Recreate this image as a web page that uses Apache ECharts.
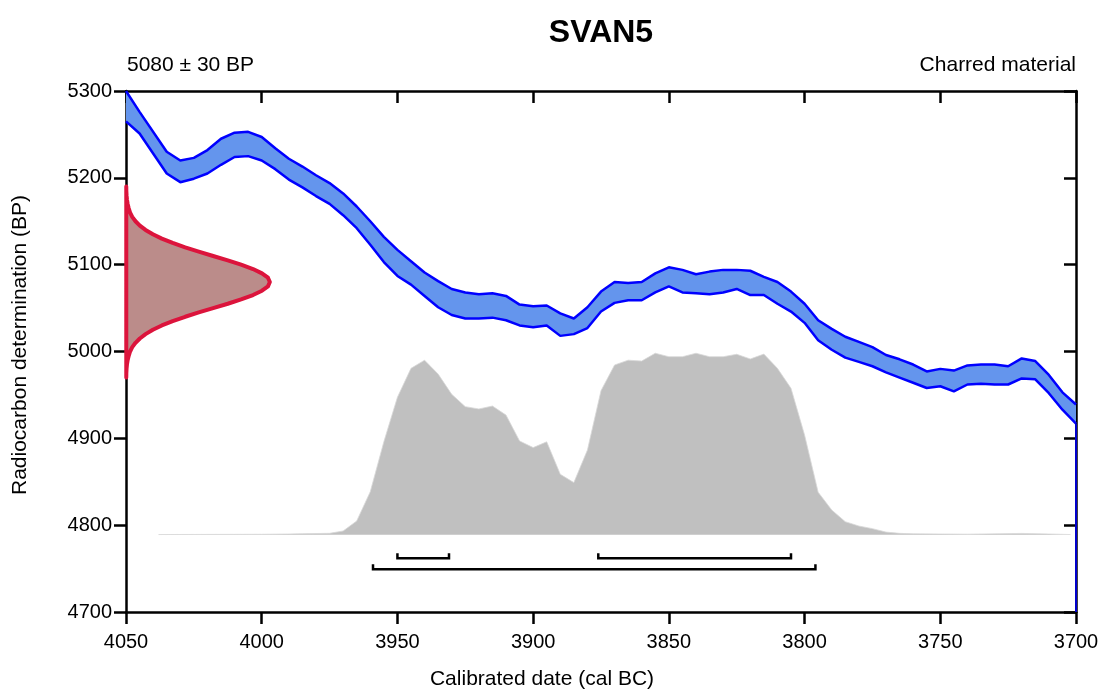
<!DOCTYPE html>
<html>
<head>
<meta charset="utf-8">
<script src="https://cdn.jsdelivr.net/npm/echarts@6/dist/echarts.min.js"></script>
<style>
  html, body { margin: 0; padding: 0; background: #fff; }
  #chart { width: 1098px; height: 689px; }
</style>
</head>
<body>
<div id="chart"></div>
<script>
// calibration curve (cal BC vs BP), upper and lower 1-sigma edges
const curveYears = [4050, 4045, 4035, 4030, 4025, 4020, 4015, 4010, 4005, 4000, 3995, 3990, 3985, 3980, 3975, 3970,
  3965, 3960, 3955, 3950, 3945, 3940, 3935, 3930, 3925, 3920, 3915, 3910, 3905, 3900, 3895, 3890, 3885, 3880,
  3875, 3870, 3865, 3860, 3855, 3850, 3845, 3840, 3835, 3830, 3825, 3820, 3815, 3810, 3805, 3800, 3795, 3790,
  3785, 3780, 3775, 3770, 3765, 3760, 3755, 3750, 3745, 3740, 3735, 3730, 3725, 3720, 3715, 3710, 3705, 3700]
const curveUpper = [5300, 5276, 5230, 5220, 5223, 5232, 5245, 5252, 5253, 5247, 5234, 5222, 5213, 5203, 5194, 5182,
  5167, 5150, 5132, 5117, 5104, 5091, 5081, 5072, 5068, 5066, 5067, 5064, 5054, 5052, 5053, 5044, 5038, 5051,
  5069, 5080, 5079, 5080, 5090, 5097, 5094, 5089, 5092, 5094, 5094, 5093, 5086, 5080, 5069, 5055, 5036, 5026,
  5017, 5011, 5005, 4996, 4991, 4985, 4977, 4980, 4978, 4984, 4985, 4985, 4983, 4992, 4989, 4973, 4953, 4939]
const curveLower = [5265, 5251, 5205, 5195, 5199, 5205, 5215, 5224, 5225, 5220, 5210, 5198, 5189, 5179, 5170, 5157,
  5142, 5123, 5103, 5087, 5077, 5064, 5051, 5042, 5038, 5038, 5039, 5036, 5030, 5028, 5030, 5018, 5020, 5027,
  5046, 5056, 5059, 5059, 5068, 5075, 5068, 5067, 5066, 5068, 5072, 5065, 5065, 5055, 5046, 5033, 5013, 5002,
  4993, 4988, 4983, 4976, 4970, 4964, 4958, 4960, 4954, 4962, 4963, 4962, 4962, 4969, 4968, 4952, 4933, 4917]

// measured radiocarbon date: BP values and width of the curve (years)
const dateBP = [4970, 4975, 4980, 4985, 4990, 4995, 5000, 5005, 5010, 5015, 5020, 5025, 5030, 5035, 5040, 5045,
  5050, 5055, 5060, 5065, 5070, 5075, 5080, 5085, 5090, 5095, 5100, 5105, 5110, 5115, 5120, 5125, 5130, 5135,
  5140, 5145, 5150, 5155, 5160, 5165, 5170, 5175, 5180, 5185, 5190]
const dateWidth = [0.1, 0.12, 0.2, 0.35, 0.6, 1.0, 1.5, 2.3, 3.5, 5.1, 7.2, 9.9, 13.2, 17.2, 21.8, 26.8,
  32.1, 37.5, 42.4, 46.8, 50.1, 52.3, 53, 52.3, 50.1, 46.8, 42.4, 37.5, 32.1, 26.8, 21.8, 17.2, 13.2, 9.9,
  7.2, 5.1, 3.5, 2.3, 1.5, 1.0, 0.6, 0.35, 0.2, 0.12, 0.1]

// calibrated probability (top edge in BP units above the baseline)
const pdfYears = [4038, 4000, 3990, 3985, 3975, 3970, 3965, 3960, 3955, 3950, 3945, 3940, 3935, 3930, 3925, 3920,
  3915, 3910, 3905, 3900, 3895, 3890, 3885, 3880, 3875, 3870, 3865, 3860, 3855, 3850, 3845, 3840, 3835, 3830,
  3825, 3820, 3815, 3810, 3805, 3800, 3795, 3790, 3785, 3780, 3775, 3770, 3765, 3760, 3740, 3720, 3710, 3702]
const pdfTop = [4789.2, 4789.5, 4789.8, 4790.2, 4790.6, 4793.3, 4804.8, 4838.6, 4896, 4947.3, 4980.6, 4990, 4974,
  4950.7, 4936.5, 4933.8, 4937.2, 4926.8, 4897, 4889.3, 4896, 4858.6, 4849, 4886.5, 4954.9, 4984.4, 4990, 4989,
  4998, 4994, 4994, 4998, 4994, 4994, 4996.8, 4991.4, 4997, 4980.6, 4957.6, 4903.8, 4838, 4817.5, 4804, 4799,
  4796, 4792, 4790.6, 4790, 4789.6, 4790.5, 4789.8, 4789.2]
const pdfBase = 4789

// ranges (cal BC)
const range68 = [[3950, 3931], [3876, 3805]]
const range95 = [[3959, 3796]]

const xTicks = { min: 3700, max: 4050, interval: 50 }
const yTicks = { min: 4700, max: 5300, interval: 100 }

const font = 'Liberation Sans, Arial, Helvetica, sans-serif'
const chart = echarts.init(document.getElementById('chart'))

const axisCommon = {
  axisLine: { show: true, onZero: false, lineStyle: { color: '#000', width: 2.5 } },
  axisTick: { show: true, length: 12, lineStyle: { color: '#000', width: 2.5 } },
  splitLine: { show: false }
}

function bandItem(params, api) {
  const pts = []
  curveYears.forEach((y, i) => pts.push(api.coord([y, curveUpper[i]])))
  for (let i = curveYears.length - 1; i >= 0; i--) {
    pts.push(api.coord([curveYears[i], curveLower[i]]))
  }
  return { type: 'polygon', shape: { points: pts }, style: { fill: '#6495ed' } }
}

function dateItem(params, api) {
  const pts = dateBP.map((bp, i) => api.coord([xTicks.max - dateWidth[i], bp]))
  return {
    type: 'polygon',
    shape: { points: pts },
    style: { fill: '#bb8c8a', stroke: '#dc143c', lineWidth: 4, lineJoin: 'round' }
  }
}

function bracketItem(params, api) {
  const a = api.coord([api.value(0), api.value(2)])
  const b = api.coord([api.value(1), api.value(2)])
  return {
    type: 'polyline',
    shape: { points: [[a[0], a[1] - 5], [a[0], a[1]], [b[0], b[1]], [b[0], b[1] - 5]] },
    style: { stroke: '#000', lineWidth: 2.5, fill: null }
  }
}

const last = curveYears.length - 1
const plain = v => String(v)

chart.setOption({
  animation: false,
  grid: { left: 126, right: 22, top: 91, bottom: 77, containLabel: false, outerBoundsMode: 'none' },
  xAxis: [
    Object.assign({}, axisCommon, {
      type: 'value', position: 'bottom', inverse: true,
      min: xTicks.min, max: xTicks.max, interval: xTicks.interval,
      axisLabel: { color: '#000', fontSize: 20, fontFamily: font, margin: 20, formatter: plain }
    }),
    Object.assign({}, axisCommon, {
      type: 'value', position: 'top', inverse: true,
      min: xTicks.min, max: xTicks.max, interval: xTicks.interval,
      axisTick: { show: true, inside: true, length: 12, lineStyle: { color: '#000', width: 2.5 } },
      axisLabel: { show: false }
    })
  ],
  yAxis: [
    Object.assign({}, axisCommon, {
      type: 'value', position: 'left',
      min: yTicks.min, max: yTicks.max, interval: yTicks.interval,
      axisLabel: { color: '#000', fontSize: 20, fontFamily: font, margin: 14, formatter: plain }
    }),
    Object.assign({}, axisCommon, {
      type: 'value', position: 'right',
      min: yTicks.min, max: yTicks.max, interval: yTicks.interval,
      axisTick: { show: true, inside: true, length: 12, lineStyle: { color: '#000', width: 2.5 } },
      axisLabel: { show: false }
    })
  ],
  series: [
    {
      name: 'calibrated',
      type: 'line',
      data: pdfYears.map((y, i) => [y, pdfTop[i]]),
      symbol: 'none',
      lineStyle: { color: '#d8d8d8', width: 0.8 },
      areaStyle: { color: '#c0c0c0', opacity: 1, origin: pdfBase },
      z: 1
    },
    {
      name: 'band',
      type: 'custom',
      renderItem: bandItem,
      data: [[curveYears[0], curveUpper[0]]],
      clip: true,
      z: 2
    },
    {
      name: 'upper',
      type: 'line',
      data: curveYears.map((y, i) => [y, curveUpper[i]]),
      symbol: 'none',
      lineStyle: { color: '#0000ff', width: 2.5 },
      z: 3
    },
    {
      name: 'lower',
      type: 'line',
      data: curveYears.map((y, i) => [y, curveLower[i]]),
      symbol: 'none',
      lineStyle: { color: '#0000ff', width: 2.5 },
      z: 3
    },
    {
      name: 'edge',
      type: 'line',
      data: [[curveYears[last], curveLower[last]], [curveYears[last], yTicks.min]],
      symbol: 'none',
      lineStyle: { color: '#0000cc', width: 2 },
      z: 3
    },
    {
      name: 'date',
      type: 'custom',
      renderItem: dateItem,
      data: [[xTicks.max, dateBP[0]]],
      z: 4
    },
    {
      name: 'ranges',
      type: 'custom',
      renderItem: bracketItem,
      encode: { x: [0, 1], y: 2 },
      data: range68.map(r => [r[0], r[1], 4761.8]).concat(range95.map(r => [r[0], r[1], 4749.2])),
      z: 4
    }
  ],
  graphic: [
    { type: 'text', x: 601, y: 33, style: { text: 'SVAN5', font: 'bold 32px ' + font, fill: '#000', align: 'center', verticalAlign: 'middle' } },
    { type: 'text', x: 127, y: 65, style: { text: '5080 ± 30 BP', font: '21px ' + font, fill: '#000', align: 'left', verticalAlign: 'middle' } },
    { type: 'text', x: 1076, y: 65, style: { text: 'Charred material', font: '21px ' + font, fill: '#000', align: 'right', verticalAlign: 'middle' } },
    { type: 'text', x: 542, y: 679, style: { text: 'Calibrated date (cal BC)', font: '21px ' + font, fill: '#000', align: 'center', verticalAlign: 'middle' } },
    { type: 'text', x: 20, y: 345, rotation: Math.PI / 2, style: { text: 'Radiocarbon determination (BP)', font: '21px ' + font, fill: '#000', align: 'center', verticalAlign: 'middle' } }
  ]
})
</script>
</body>
</html>
